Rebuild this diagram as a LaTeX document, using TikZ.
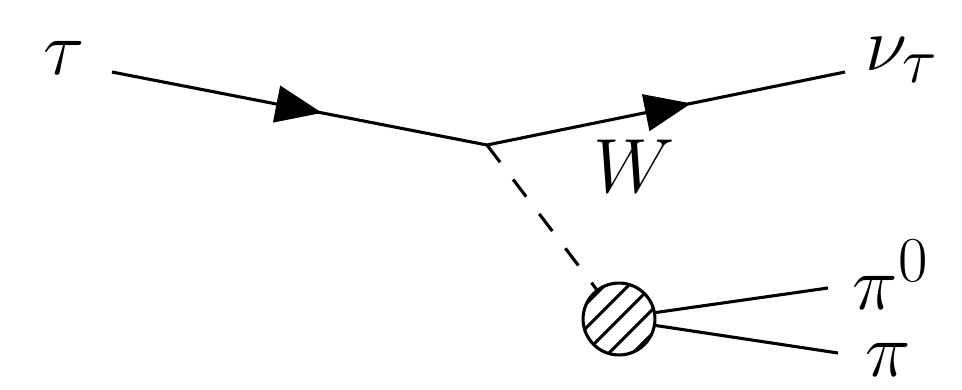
\documentclass[tikz,border=0pt]{standalone}
\usetikzlibrary{arrows.meta,decorations.markings,calc}

\tikzset{
  fermion/.style={line width=1pt, postaction={decorate},
    decoration={markings, mark=at position #1 with {\arrow{Triangle[length=15pt,width=12pt]}}}},
  mesonline/.style={line width=1pt, dash pattern=on 7pt off 7pt},
  hadron/.style={line width=1pt},
  blobstyle/.style={circle, draw, line width=1pt, minimum size=23.3pt, inner sep=0pt},
  particle/.style={font=\Huge}
}

\begin{document}
\begin{tikzpicture}[x=0.324pt, y=-0.324pt]
\useasboundingbox (0,0) rectangle (962,389);

% vertices and external points
\coordinate (tauin) at (112,72);
\coordinate (vtx) at (487,145);
\coordinate (nuout) at (845,72);
\coordinate (pizeroend) at (828,288);
\coordinate (piend) at (838,353);
\node[blobstyle] (blob) at (619,319) {};

% labels
\node[particle] (tau) at (64,58) {$\tau$};
\node[particle] (nutau) at (902,60) {$\nu_\tau$};
\node[particle] (W) at (634,166) {$W$};
\node[particle] (pizero) at (891,275) {$\pi^0$};
\node[particle] (piminus) at (888,360) {$\pi$};

% lines
\draw[fermion=0.56] (tauin) -- (vtx);
\draw[fermion=0.57] (vtx) -- (nuout);
\draw[mesonline] (vtx) -- (blob);
\draw[hadron] (blob.10) -- (pizeroend);
\draw[hadron] (blob.-10) -- (piend);

% hatching of the blob
\begin{scope}
  \clip (blob.center) circle (11.65pt);
  \foreach \k in {-2,...,2}
    \draw[line width=1pt] ($(blob.center)+(12*\k-40,12*\k+40)$) -- ++(80,-80);
\end{scope}
\end{tikzpicture}
\end{document}
